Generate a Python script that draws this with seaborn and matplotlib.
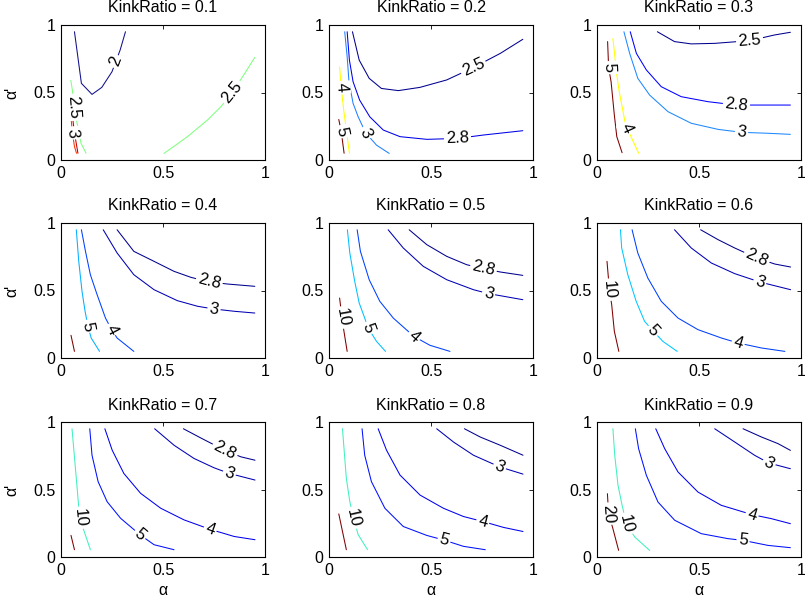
import numpy as np
import matplotlib
matplotlib.use("Agg")
import matplotlib.pyplot as plt
import seaborn as sns

# ---------------- data ----------------
kink_ratios = [0.1, 0.2, 0.3, 0.4, 0.5, 0.6, 0.7, 0.8, 0.9]
tick_vals = [0, 0.5, 1]
tick_labels = ["0", "0.5", "1"]

# each panel: list of curves (level text, xs, ys, approx label point or None)
p1 = [
    ("2", [0.066, 0.10, 0.152, 0.20, 0.25, 0.29, 0.316], [0.95, 0.568, 0.486, 0.538, 0.654, 0.815, 0.95], (0.268, 0.73)),
    ("2.5", [0.505, 0.62, 0.718, 0.784, 0.84, 0.906, 0.95], [0.049, 0.173, 0.296, 0.395, 0.50, 0.654, 0.76], (0.84, 0.50)),
    ("2.5", [0.048, 0.057, 0.062, 0.075, 0.085, 0.098, 0.123], [0.59, 0.506, 0.39, 0.30, 0.23, 0.124, 0.05], (0.062, 0.39)),
    ("3", [0.048, 0.056, 0.066, 0.076], [0.33, 0.2, 0.10, 0.05], (0.056, 0.2)),
    ("3", [0.058, 0.066, 0.083], [0.30, 0.2, 0.05], None),
]
p2 = [
    ("2.5", [0.115, 0.148, 0.197, 0.257, 0.34, 0.446, 0.577, 0.708, 0.84, 0.95], [0.95, 0.74, 0.605, 0.53, 0.514, 0.538, 0.593, 0.685, 0.79, 0.894], (0.708, 0.685)),
    ("2.8", [0.089, 0.10, 0.118, 0.15, 0.2, 0.266, 0.348, 0.48, 0.63, 0.757, 0.95], [0.95, 0.74, 0.58, 0.444, 0.32, 0.222, 0.173, 0.153, 0.16, 0.185, 0.217], (0.63, 0.16)),
    ("3", [0.077, 0.089, 0.098, 0.118, 0.143, 0.18, 0.233, 0.295], [0.95, 0.765, 0.58, 0.42, 0.32, 0.2, 0.11, 0.049], (0.18, 0.2)),
    ("4", [0.052, 0.06, 0.072, 0.10], [0.69, 0.536, 0.37, 0.05], (0.058, 0.536)),
    ("5", [0.048, 0.06, 0.074], [0.30, 0.21, 0.05], (0.06, 0.21)),
]
p3 = [
    ("2.5", [0.296, 0.38, 0.462, 0.577, 0.748, 0.87, 0.948], [0.95, 0.877, 0.86, 0.864, 0.884, 0.926, 0.946], (0.748, 0.884)),
    ("2.8", [0.163, 0.193, 0.242, 0.315, 0.413, 0.544, 0.683, 0.773, 0.948], [0.95, 0.79, 0.667, 0.543, 0.469, 0.432, 0.407, 0.407, 0.407], (0.683, 0.407)),
    ("3", [0.132, 0.16, 0.2, 0.258, 0.348, 0.462, 0.593, 0.708, 0.838, 0.948], [0.95, 0.79, 0.605, 0.481, 0.358, 0.272, 0.227, 0.205, 0.198, 0.19], (0.708, 0.205)),
    ("4", [0.078, 0.097, 0.109, 0.14, 0.204], [0.9, 0.63, 0.506, 0.26, 0.05], (0.148, 0.235)),
    ("5", [0.052, 0.057, 0.069, 0.085, 0.097, 0.123], [0.877, 0.684, 0.58, 0.333, 0.173, 0.054], (0.057, 0.684)),
]
p4 = [
    ("2.8", [0.275, 0.357, 0.456, 0.554, 0.636, 0.726, 0.816, 0.95], [0.95, 0.79, 0.716, 0.642, 0.598, 0.563, 0.548, 0.531], (0.726, 0.563)),
    ("3", [0.207, 0.275, 0.357, 0.456, 0.57, 0.67, 0.75, 0.85, 0.95], [0.95, 0.778, 0.617, 0.506, 0.425, 0.383, 0.363, 0.346, 0.333], (0.75, 0.363)),
    ("4", [0.10, 0.12, 0.144, 0.177, 0.218, 0.248, 0.275, 0.357], [0.95, 0.79, 0.617, 0.469, 0.296, 0.21, 0.148, 0.049], (0.248, 0.21)),
    ("5", [0.075, 0.087, 0.103, 0.118, 0.132, 0.148, 0.189], [0.95, 0.716, 0.494, 0.346, 0.235, 0.148, 0.049], (0.132, 0.235)),
    ("10", [0.049, 0.066], [0.168, 0.049], None),
]
p5 = [
    ("2.8", [0.393, 0.479, 0.577, 0.675, 0.757, 0.84, 0.95], [0.95, 0.84, 0.753, 0.691, 0.662, 0.637, 0.612], (0.757, 0.662)),
    ("3", [0.29, 0.364, 0.462, 0.577, 0.708, 0.782, 0.95], [0.95, 0.815, 0.679, 0.58, 0.506, 0.477, 0.432], (0.782, 0.477)),
    ("4", [0.138, 0.154, 0.197, 0.249, 0.315, 0.416, 0.495, 0.593], [0.95, 0.79, 0.58, 0.42, 0.296, 0.16, 0.094, 0.049], (0.416, 0.16)),
    ("5", [0.09, 0.102, 0.126, 0.148, 0.175, 0.192, 0.233, 0.277], [0.95, 0.778, 0.568, 0.407, 0.296, 0.222, 0.123, 0.049], (0.192, 0.222)),
    ("10", [0.052, 0.058, 0.066, 0.072, 0.089], [0.444, 0.37, 0.30, 0.21, 0.049], (0.066, 0.30)),
]
p6 = [
    ("2.8", [0.508, 0.593, 0.675, 0.782, 0.872, 0.949], [0.95, 0.877, 0.815, 0.741, 0.696, 0.674], (0.782, 0.741)),
    ("3", [0.38, 0.462, 0.56, 0.675, 0.798, 0.949], [0.95, 0.815, 0.704, 0.625, 0.563, 0.506], (0.798, 0.563)),
    ("4", [0.172, 0.2, 0.249, 0.315, 0.397, 0.495, 0.61, 0.692, 0.807, 0.921], [0.95, 0.778, 0.593, 0.42, 0.296, 0.21, 0.148, 0.111, 0.074, 0.049], (0.692, 0.111)),
    ("5", [0.115, 0.121, 0.151, 0.192, 0.233, 0.274, 0.323, 0.393], [0.95, 0.815, 0.617, 0.42, 0.272, 0.202, 0.123, 0.049], (0.274, 0.202)),
    ("10", [0.049, 0.055, 0.061, 0.072, 0.085, 0.107], [0.716, 0.61, 0.506, 0.395, 0.198, 0.049], (0.061, 0.506)),
]
p7 = [
    ("2.8", [0.6, 0.685, 0.803, 0.882, 0.951], [0.95, 0.882, 0.79, 0.742, 0.717], (0.803, 0.79)),
    ("3", [0.459, 0.554, 0.652, 0.75, 0.825, 0.951], [0.95, 0.828, 0.73, 0.661, 0.619, 0.57], (0.825, 0.619)),
    ("4", [0.215, 0.251, 0.308, 0.39, 0.489, 0.603, 0.731, 0.849, 0.951], [0.95, 0.791, 0.619, 0.472, 0.361, 0.275, 0.205, 0.152, 0.128], (0.731, 0.205)),
    ("5", [0.141, 0.152, 0.182, 0.226, 0.292, 0.349, 0.387, 0.456, 0.554], [0.95, 0.754, 0.558, 0.41, 0.287, 0.214, 0.165, 0.091, 0.054], (0.387, 0.165)),
    ("10", [0.054, 0.075, 0.086, 0.092, 0.111, 0.144], [0.95, 0.582, 0.386, 0.29, 0.201, 0.054], (0.09, 0.29)),
    ("20", [0.049, 0.066], [0.16, 0.054], None),
]
p8 = [
    ("2.8", [0.664, 0.741, 0.839, 0.951], [0.95, 0.889, 0.828, 0.754], None),
    ("3", [0.528, 0.61, 0.708, 0.836, 0.951], [0.95, 0.852, 0.754, 0.668, 0.614], (0.836, 0.668)),
    ("4", [0.241, 0.282, 0.348, 0.446, 0.561, 0.659, 0.754, 0.856, 0.951], [0.95, 0.791, 0.607, 0.459, 0.361, 0.3, 0.263, 0.219, 0.189], (0.754, 0.263)),
    ("5", [0.162, 0.175, 0.208, 0.274, 0.364, 0.479, 0.564, 0.659, 0.766], [0.95, 0.754, 0.558, 0.361, 0.226, 0.16, 0.125, 0.079, 0.054], (0.564, 0.125)),
    ("10", [0.066, 0.085, 0.102, 0.12, 0.143, 0.189], [0.95, 0.582, 0.41, 0.29, 0.165, 0.054], (0.12, 0.29)),
    ("20", [0.048, 0.085], [0.319, 0.054], None),
]
p9 = [
    ("2.8", [0.716, 0.806, 0.887, 0.948], [0.95, 0.889, 0.84, 0.79], None),
    ("3", [0.577, 0.675, 0.773, 0.843, 0.948], [0.95, 0.852, 0.753, 0.696, 0.654], (0.843, 0.696)),
    ("4", [0.288, 0.332, 0.397, 0.495, 0.609, 0.76, 0.855, 0.948], [0.95, 0.802, 0.63, 0.481, 0.383, 0.314, 0.284, 0.247], (0.76, 0.314)),
    ("5", [0.188, 0.204, 0.242, 0.299, 0.381, 0.511, 0.642, 0.716, 0.838, 0.948], [0.95, 0.802, 0.605, 0.407, 0.272, 0.173, 0.136, 0.123, 0.086, 0.069], (0.716, 0.123)),
    ("10", [0.078, 0.087, 0.103, 0.123, 0.144, 0.185, 0.258], [0.95, 0.753, 0.531, 0.383, 0.247, 0.148, 0.049], (0.144, 0.247)),
    ("20", [0.051, 0.057, 0.078, 0.106], [0.469, 0.321, 0.21, 0.049], (0.057, 0.321)),
]
panels = [p1, p2, p3, p4, p5, p6, p7, p8, p9]

# ---------------- styles ----------------
NAVY, NAVY2, BLUE, BLUE2 = "#00008F", "#0000B4", "#0000F0", "#0040FF"
panel_colors = [
    ["#10108C", "#80FF80", "#80FF80", "#FF3000", "#C00000"],
    [NAVY, "#0000E8", "#2080FF", "#FFFF00", "#800000"],
    [NAVY, "#0000FF", "#1E88FF", "#FFFF00", "#800000"],
    [NAVY, NAVY2, BLUE2, "#00B0FF", "#800000"],
    [NAVY, NAVY2, BLUE2, "#00C0FF", "#800000"],
    [NAVY, NAVY2, BLUE2, "#00C8FF", "#800000"],
    [NAVY, NAVY2, BLUE, "#0010FF", "#40F0C0", "#800000"],
    [NAVY, NAVY2, BLUE, "#0010FF", "#40F0C0", "#800000"],
    [NAVY, NAVY2, BLUE, "#0010FF", "#40F0C0", "#800000"],
]

sns.set_theme(style="white")
plt.rcParams["font.family"] = ["Liberation Sans", "DejaVu Sans"]
plt.rcParams["axes.edgecolor"] = "black"
plt.rcParams["axes.linewidth"] = 0.8
plt.rcParams["text.color"] = "black"
plt.rcParams["axes.labelcolor"] = "black"
plt.rcParams["axes.titlecolor"] = "black"

fig = plt.figure(figsize=(8.05, 6.02), dpi=100)
W, H = 805.0, 602.0
col_left = [61, 329, 597]
row_top = [25, 223, 422]
aw, ah = 204, 135


def place_label(ax, xs, ys, approx, text, color):
    pts = ax.transData.transform(np.column_stack([xs, ys]))
    target = ax.transData.transform(approx)
    best = None
    for i in range(len(pts) - 1):
        p, q = pts[i], pts[i + 1]
        d = q - p
        t = np.clip(np.dot(target - p, d) / np.dot(d, d), 0, 1)
        proj = p + t * d
        dist = np.linalg.norm(proj - target)
        if best is None or dist < best[0]:
            best = (dist, proj, d)
    _, proj, d = best
    ang = np.degrees(np.arctan2(d[1], d[0]))
    if ang > 90:
        ang -= 180
    if ang <= -90:
        ang += 180
    x, y = ax.transData.inverted().transform(proj)
    ax.text(x, y, text, rotation=ang, rotation_mode="anchor", ha="center",
            va="center", fontsize=12, color="black", zorder=5,
            bbox=dict(fc="white", ec="none", pad=1.5))


for k, (kr, curves, cols) in enumerate(zip(kink_ratios, panels, panel_colors)):
    r, c = divmod(k, 3)
    ax = fig.add_axes([col_left[c] / W, 1 - (row_top[r] + ah) / H, aw / W, ah / H])
    ax.set_xlim(0, 1)
    ax.set_ylim(0, 1)
    for (lev, xs, ys, lab), col in zip(curves, cols):
        sns.lineplot(x=xs, y=ys, sort=False, estimator=None, color=col,
                     linewidth=0.75, ax=ax)
    for (lev, xs, ys, lab), col in zip(curves, cols):
        if lab is not None:
            place_label(ax, xs, ys, lab, lev, col)
    ax.set_xticks(tick_vals)
    ax.set_xticklabels(tick_labels)
    ax.set_yticks(tick_vals)
    ax.set_yticklabels(tick_labels)
    ax.tick_params(direction="in", top=True, right=True, length=3, width=0.6,
                   labelsize=11.5, pad=4, colors="black")
    for s in ax.spines.values():
        s.set_visible(True)
        s.set_color("black")
        s.set_linewidth(0.8)
    ax.set_title(f"KinkRatio = {kr}", fontsize=11.5, pad=9, color="black")
    if c == 0:
        ax.set_ylabel("α'", fontsize=11.5, labelpad=10, color="black")
    if r == 2:
        ax.set_xlabel("α", fontsize=11.5, labelpad=4, color="black")

fig.savefig("out.png", dpi=100)
